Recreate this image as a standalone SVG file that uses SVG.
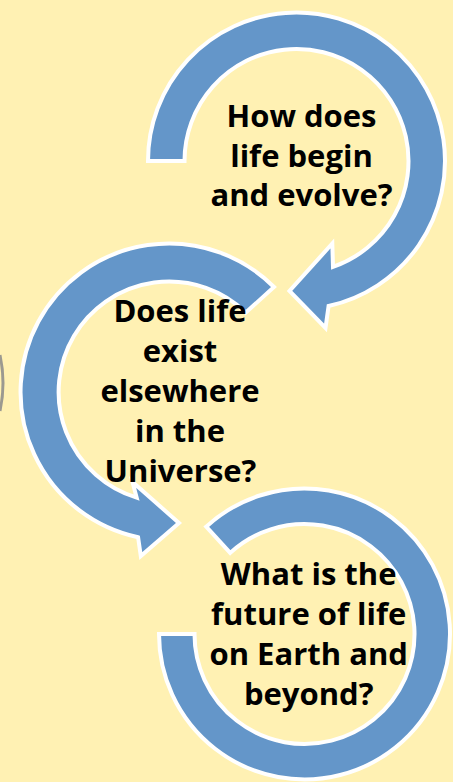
<svg xmlns="http://www.w3.org/2000/svg" width="453" height="782" viewBox="0 0 453 782">
<style>
.arc{fill:#6496C9;stroke:#FFFFFF;stroke-width:4;stroke-linejoin:miter;stroke-miterlimit:10}
.lbl{font-family:"Open Sans","Liberation Sans",sans-serif;font-weight:bold;font-size:31px;fill:#000000;text-anchor:middle}
</style>
<rect x="0" y="0" width="453" height="782" fill="#FFF1B3"/>
<path d="M0,355 Q6,383 0,411" fill="none" stroke="#8a8a8a" stroke-width="3" opacity="0.85"/>
<g id="node1">
<path class="arc" d="M148,161 A148.5,148.5 0 1 1 328.6,306 L325.5,328 L289.5,291 L332.3,243.5 L333,266.9 A112,112 0 1 0 184.5,161 Z"/>
<text class="lbl" x="301.5" y="127">How does</text>
<text class="lbl" x="301.5" y="166.5">life begin</text>
<text class="lbl" x="301.5" y="206">and evolve?</text>
</g>
<g id="node2">
<path class="arc" d="M274,287 A148.5,148.5 0 1 0 138.1,537.3 L140.8,556 L179,523 L132.5,482 L136.7,497.7 A110.5,110.5 0 1 1 245.8,312.5 Z"/>
<text class="lbl" x="180" y="321.5">Does life</text>
<text class="lbl" x="180" y="361.5">exist</text>
<text class="lbl" x="180" y="401.5">elsewhere</text>
<text class="lbl" x="180" y="441.5">in the</text>
<text class="lbl" x="180.5" y="481.5">Universe?</text>
</g>
<g id="node3">
<path class="arc" d="M206.2,526.7 A145.5,145.5 0 1 1 159,634 L194.5,634 A110,110 0 1 0 230.2,552.9 Z"/>
<text class="lbl" x="308.7" y="585">What is the</text>
<text class="lbl" x="308.7" y="625">future of life</text>
<text class="lbl" x="308.7" y="665">on Earth and</text>
<text class="lbl" x="308.7" y="704.5">beyond?</text>
</g>
<g id="connectors"></g>
</svg>
